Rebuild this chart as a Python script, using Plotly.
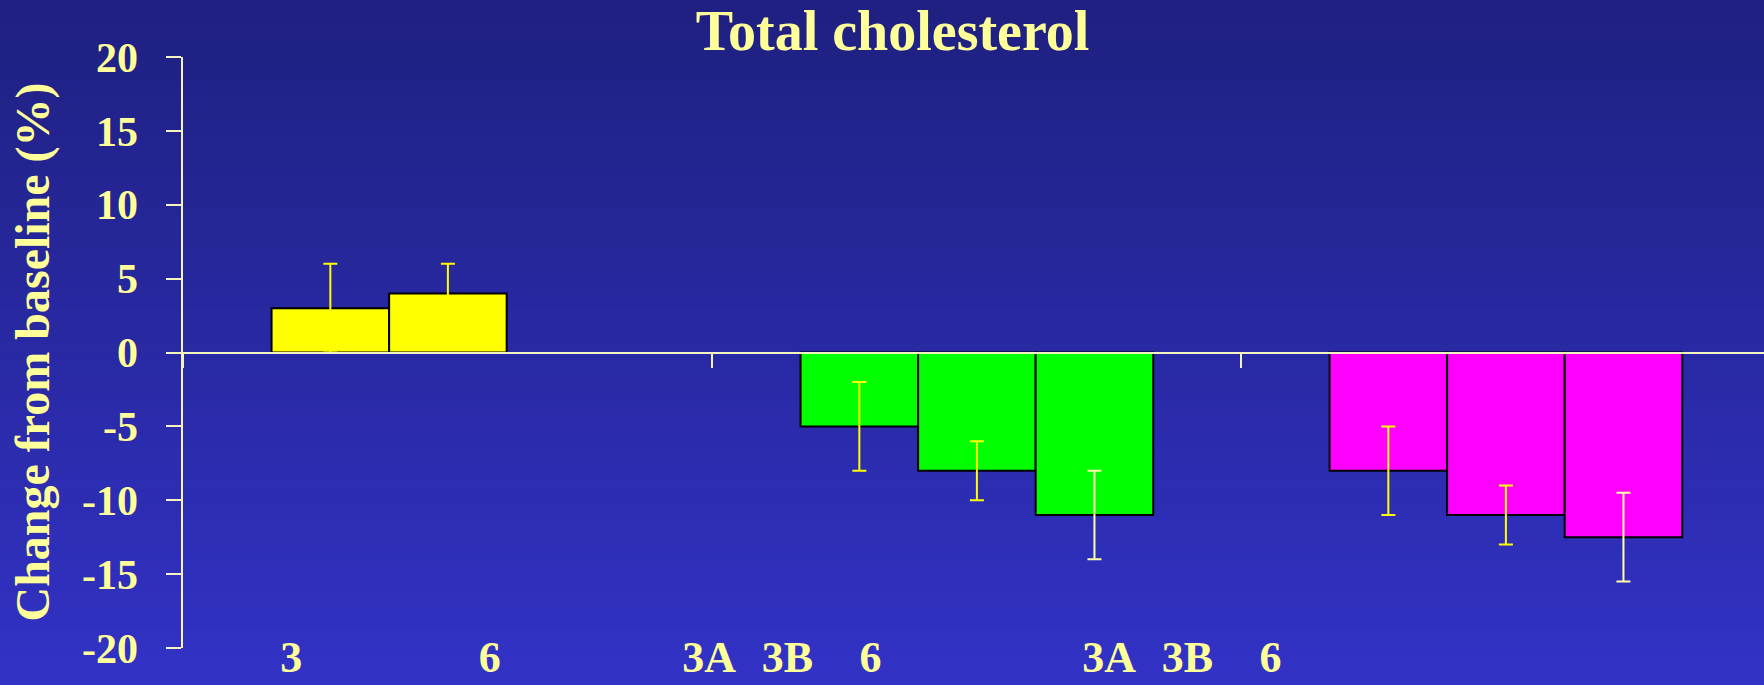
import plotly.graph_objects as go

# Change from baseline (%) in total cholesterol, three treatment groups
groups = ['A', 'B', 'C']
group_colors = ['#ffff00', '#00ff00', '#ff00ff']

# one list per bar position inside a group (first group has only two bars)
bar1 = [3, -5, -8]
bar1_err = [3, 3, 3]
bar2 = [4, -8, -11]
bar2_err = [2, 2, 2]
bar3 = [None, -11, -12.5]
bar3_err = [None, 3, 3]

# y tick labels (plain hyphen as on the slide)
y_ticks = [20, 15, 10, 5, 0, -5, -10, -15, -20]
y_ticktext = ['20', '15', '10', '5', '0', '-5', '-10', '-15', '-20']

# week labels under the bars, as typed on the slide
week_labels = ['3', '6', '3A', '3B', '6', '3A', '3B', '6']
week_label_pos = [-0.296, 0.079, 0.494, 0.642, 0.799, 1.25, 1.398, 1.555]

W, H = 1764, 685
txt = '#ffff99'
axcol = '#f4f4c0'
font = 'Liberation Serif'

# plot area in pixels
left, top, bottom = 183.4, 57, 648
xdom = [left / W, 1.0]
ydom = [(H - bottom) / H, (H - top) / H]
ymid = (ydom[0] + ydom[1]) / 2
xrange_ = [-0.5, -0.5 + (W - left) / 529.0]

fig = go.Figure()
for vals, errs, ecol in [(bar1, bar1_err, '#ffff00'),
                         (bar2, bar2_err, '#ffff00'),
                         (bar3, bar3_err, '#ffffa8')]:
    fig.add_trace(go.Bar(
        x=groups, y=vals,
        marker=dict(color=group_colors, line=dict(color='black', width=2)),
        error_y=dict(type='data', array=errs, color=ecol, thickness=2, width=7),
        showlegend=False,
    ))

# empty trace so the label axis is drawn
fig.add_trace(go.Scatter(x=[], y=[], xaxis='x2', showlegend=False, hoverinfo='skip'))

# vertical gradient background made of thin bands
shapes = []
n = 60
c0, c1 = (31, 32, 128), (50, 50, 198)
for i in range(n):
    f = (i + 0.5) / n
    c = tuple(round(c0[k] + (c1[k] - c0[k]) * f) for k in range(3))
    shapes.append(dict(type='rect', xref='paper', yref='paper', layer='below',
                       x0=0, x1=1, y0=1 - (i + 1) / n, y1=1 - i / n + 0.001,
                       fillcolor='rgb(%d,%d,%d)' % c, line=dict(width=0)))

fig.update_layout(
    width=W, height=H,
    margin=dict(l=0, r=0, t=0, b=0, autoexpand=False),
    paper_bgcolor='rgb(31,32,128)',
    plot_bgcolor='rgba(0,0,0,0)',
    barmode='group', bargap=1 - 3 / 4.5, bargroupgap=0,
    shapes=shapes,
    title=dict(text='<b>Total cholesterol</b>', x=0.506, xanchor='center',
               y=1 - 30 / H, yanchor='middle',
               font=dict(family=font, size=56, color=txt)),
    xaxis=dict(domain=xdom, range=xrange_, anchor='free', position=ymid,
               showline=True, linecolor=axcol, linewidth=2,
               tickson='boundaries', ticks='outside', ticklen=14, tickwidth=1.5,
               tickcolor=axcol, showticklabels=False, showgrid=False,
               zeroline=False, layer='above traces'),
    xaxis2=dict(domain=xdom, range=xrange_, overlaying='x', anchor='free',
                position=ydom[0] + 21 / H, type='linear',
                tickmode='array', tickvals=week_label_pos,
                ticktext=['<b>%s</b>' % t for t in week_labels],
                ticks='', showline=False, showgrid=False, zeroline=False,
                tickfont=dict(family=font, size=44, color=txt)),
    yaxis=dict(domain=ydom, range=[-20, 20], showline=True, linecolor=axcol,
               linewidth=2, ticks='outside', ticklen=15, tickwidth=1.5,
               tickcolor=axcol, tickmode='array', tickvals=y_ticks,
               ticktext=['<b>%s</b>' % t for t in y_ticktext],
               ticklabelstandoff=20, showgrid=False, zeroline=False,
               tickfont=dict(family=font, size=42, color=txt)),
    annotations=[dict(text='<b>Change from baseline (%)</b>', textangle=-90,
                      xref='paper', yref='paper', x=32 / W, y=ymid,
                      xanchor='center', yanchor='middle', showarrow=False,
                      font=dict(family=font, size=48, color=txt))],
)

# drop the page margin so the chart fills the window
fig.write_html('out.html', config={'displayModeBar': False},
               post_script="document.body.style.margin='0px';")
